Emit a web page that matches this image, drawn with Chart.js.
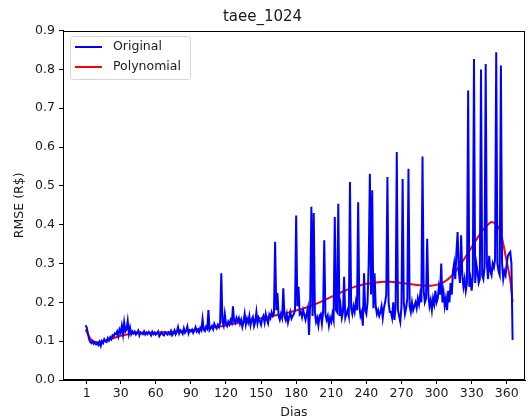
<!DOCTYPE html>
<html>
<head>
<meta charset="utf-8">
<script src="https://cdn.jsdelivr.net/npm/chart.js@4"></script>
<style>
  html, body { margin: 0; padding: 0; background: #fff; }
  #wrap { width: 529px; height: 420px; }
</style>
</head>
<body>
<div id="wrap"><canvas id="chart" width="529" height="420"></canvas></div>
<script>
// Chart data
const chartTitle = 'taee_1024';
const xTicks = [1, 30, 60, 90, 120, 150, 180, 210, 240, 270, 300, 330, 360];
const yTicks = [0, 0.1, 0.2, 0.3, 0.4, 0.5, 0.6, 0.7, 0.8, 0.9];

// daily RMSE, day 0 .. 365
const original = [
  0.141, 0.135, 0.12, 0.105, 0.098, 0.095, 0.1, 0.093, 0.097, 0.092, 0.095,
  0.09, 0.098, 0.088, 0.1, 0.095, 0.105, 0.1, 0.098, 0.108, 0.102,
  0.11, 0.105, 0.115, 0.112, 0.12, 0.118, 0.125, 0.113, 0.13, 0.122,
  0.14, 0.118, 0.148, 0.125, 0.13, 0.152, 0.12, 0.135, 0.118, 0.125,
  0.12, 0.125, 0.117, 0.122, 0.127, 0.115, 0.123, 0.12, 0.118, 0.125,
  0.117, 0.122, 0.118, 0.124, 0.12, 0.115, 0.124, 0.118, 0.122, 0.117,
  0.12, 0.125, 0.113, 0.118, 0.123, 0.117, 0.115, 0.123, 0.12, 0.117,
  0.122, 0.118, 0.126, 0.115, 0.12, 0.128, 0.118, 0.124, 0.136, 0.12,
  0.128, 0.124, 0.119, 0.133, 0.122, 0.127, 0.138, 0.12, 0.128, 0.125,
  0.13, 0.121, 0.127, 0.136, 0.125, 0.13, 0.123, 0.134, 0.128, 0.157,
  0.13, 0.126, 0.137, 0.132, 0.18, 0.129, 0.134, 0.139, 0.131, 0.145,
  0.138, 0.133, 0.142, 0.136, 0.148, 0.275, 0.15, 0.14, 0.17, 0.145,
  0.139, 0.15, 0.143, 0.155, 0.148, 0.19, 0.15, 0.146, 0.16, 0.152,
  0.16, 0.145, 0.155, 0.137, 0.15, 0.17, 0.143, 0.158, 0.148, 0.165,
  0.141, 0.155, 0.162, 0.139, 0.15, 0.175, 0.146, 0.16, 0.152, 0.142,
  0.158, 0.165, 0.148, 0.17, 0.155, 0.146, 0.168, 0.16, 0.175, 0.165,
  0.17, 0.356, 0.18, 0.224, 0.165, 0.155, 0.17, 0.16, 0.236, 0.165,
  0.155, 0.17, 0.148, 0.162, 0.175, 0.158, 0.165, 0.17, 0.18, 0.424,
  0.19, 0.24, 0.17, 0.175, 0.162, 0.18, 0.168, 0.155, 0.17, 0.185,
  0.116, 0.2, 0.446, 0.165, 0.43, 0.175, 0.15, 0.16, 0.14, 0.165,
  0.17, 0.145, 0.175, 0.36, 0.17, 0.155, 0.165, 0.14, 0.16, 0.15,
  0.17, 0.155, 0.42, 0.18, 0.175, 0.454, 0.165, 0.19, 0.16, 0.175,
  0.266, 0.16, 0.17, 0.18, 0.165, 0.51, 0.185, 0.17, 0.19, 0.175,
  0.2, 0.18, 0.458, 0.19, 0.165, 0.175, 0.14, 0.275, 0.18, 0.17,
  0.2, 0.3, 0.531, 0.22, 0.489, 0.185, 0.275, 0.19, 0.17, 0.18,
  0.165, 0.175, 0.19, 0.16, 0.185, 0.2, 0.22, 0.523, 0.2, 0.175,
  0.175, 0.16, 0.2, 0.155, 0.19, 0.587, 0.18, 0.165, 0.15, 0.19,
  0.518, 0.2, 0.17, 0.185, 0.21, 0.544, 0.19, 0.175, 0.2, 0.18,
  0.19, 0.2, 0.185, 0.21, 0.195, 0.22, 0.2, 0.576, 0.23, 0.2,
  0.21, 0.364, 0.22, 0.19, 0.205, 0.18, 0.21, 0.195, 0.23, 0.2,
  0.21, 0.24, 0.22, 0.3, 0.2, 0.225, 0.19, 0.21, 0.18, 0.23,
  0.2, 0.25, 0.22, 0.28, 0.3, 0.26, 0.33, 0.381, 0.28, 0.25,
  0.373, 0.27, 0.24, 0.26, 0.23, 0.25, 0.746, 0.24, 0.26, 0.23,
  0.27, 0.827, 0.25, 0.3, 0.28, 0.25, 0.26, 0.8, 0.27, 0.26,
  0.29, 0.814, 0.3, 0.26, 0.32, 0.28, 0.27, 0.3, 0.29, 0.31,
  0.844, 0.3, 0.28, 0.27, 0.81, 0.3, 0.26, 0.28, 0.27, 0.3,
  0.32, 0.326, 0.33, 0.3, 0.103
];

// polynomial fit, read at these days
const polyDays = [0, 5, 10, 15, 20, 25, 30, 35, 40, 45, 50, 55, 60, 65, 70, 75, 80, 85, 90, 95,
  100, 105, 110, 115, 120, 125, 130, 135, 140, 145, 150, 155, 160, 165, 170, 175, 180, 185, 190, 195,
  200, 205, 210, 215, 220, 225, 230, 235, 240, 245, 250, 255, 260, 265, 270, 275, 280, 285, 290, 295,
  300, 305, 310, 315, 320, 325, 330, 335, 340, 345, 347, 350, 353, 356, 359, 361, 363, 365];
const polyValues = [0.13, 0.103, 0.097, 0.1, 0.104, 0.109, 0.114, 0.117, 0.12, 0.121, 0.122, 0.122, 0.122, 0.123, 0.123, 0.124, 0.125, 0.126, 0.128, 0.13,
  0.132, 0.134, 0.136, 0.138, 0.141, 0.144, 0.147, 0.15, 0.153, 0.156, 0.159, 0.162, 0.165, 0.168, 0.171, 0.175, 0.179, 0.183, 0.188, 0.194,
  0.2, 0.207, 0.214, 0.221, 0.228, 0.234, 0.24, 0.244, 0.248, 0.25, 0.252, 0.253, 0.253, 0.252, 0.25, 0.248, 0.246, 0.244, 0.243, 0.243,
  0.245, 0.25, 0.26, 0.275, 0.295, 0.318, 0.342, 0.366, 0.388, 0.403, 0.407, 0.403, 0.393, 0.365, 0.32, 0.29, 0.257, 0.2];

const FONT = 'DejaVu Sans';
const TEXT = '#1a1a1a';

// frame on all four sides + legend box in upper-left corner
const frameLegend = {
  id: 'frameLegend',
  afterDatasetsDraw(chart) {
    const ctx = chart.ctx;
    const a = chart.chartArea;
    ctx.save();
    ctx.strokeStyle = '#000';
    ctx.lineWidth = 1;
    ctx.strokeRect(Math.round(a.left) + 0.5, Math.round(a.top) + 0.5,
      Math.round(a.right - a.left) - 1, Math.round(a.bottom - a.top) - 1);

    // legend
    const bx = 70.5, by = 36.5, bw = 120, bh = 43, r = 3;
    ctx.beginPath();
    ctx.moveTo(bx + r, by);
    ctx.arcTo(bx + bw, by, bx + bw, by + bh, r);
    ctx.arcTo(bx + bw, by + bh, bx, by + bh, r);
    ctx.arcTo(bx, by + bh, bx, by, r);
    ctx.arcTo(bx, by, bx + bw, by, r);
    ctx.closePath();
    ctx.fillStyle = 'rgba(255,255,255,0.8)';
    ctx.fill();
    ctx.strokeStyle = '#d6d6d6';
    ctx.stroke();

    const items = [['Original', '#0000ff', 47], ['Polynomial', '#ff0000', 67]];
    ctx.font = '12.5px "' + FONT + '"';
    ctx.textBaseline = 'middle';
    items.forEach(([label, color, y]) => {
      ctx.strokeStyle = color;
      ctx.lineWidth = 2;
      ctx.beginPath();
      ctx.moveTo(75, y);
      ctx.lineTo(102, y);
      ctx.stroke();
      ctx.fillStyle = TEXT;
      ctx.fillText(label, 113, y);
    });
    ctx.restore();
  }
};

const ctx = document.getElementById('chart').getContext('2d');
new Chart(ctx, {
  type: 'line',
  data: {
    datasets: [
      {
        label: 'Original',
        data: original.map((v, i) => ({ x: i, y: v })),
        borderColor: '#0000ff',
        borderWidth: 2,
        pointRadius: 0,
        tension: 0
      },
      {
        label: 'Polynomial',
        data: polyDays.map((d, i) => ({ x: d, y: polyValues[i] })),
        borderColor: '#ff0000',
        borderWidth: 2,
        pointRadius: 0,
        cubicInterpolationMode: 'monotone'
      }
    ]
  },
  options: {
    responsive: false,
    animation: false,
    layout: { padding: { left: 0, right: 4, top: 0, bottom: 0 } },
    plugins: {
      legend: { display: false },
      tooltip: { enabled: false },
      title: {
        display: true,
        text: chartTitle,
        color: TEXT,
        font: { family: FONT, size: 15, weight: 'normal' },
        padding: { top: 8, bottom: 4.6 }
      }
    },
    scales: {
      x: {
        type: 'linear',
        min: -19.3,
        max: 375.6,
        afterBuildTicks: (s) => { s.ticks = xTicks.map(v => ({ value: v })); },
        afterFit: (s) => { s.height = 40; },
        ticks: {
          color: TEXT,
          font: { family: FONT, size: 12.5 },
          padding: 2,
          maxRotation: 0,
          autoSkip: false,
          callback: (v) => String(v)
        },
        grid: { display: true, drawOnChartArea: false, drawTicks: true, tickLength: 4, color: '#000' },
        border: { display: true, color: '#000', width: 1 },
        title: {
          display: true,
          text: 'Dias',
          color: TEXT,
          font: { family: FONT, size: 12.5 },
          padding: { top: 0, bottom: 0 }
        }
      },
      y: {
        min: 0,
        max: 0.9,
        afterBuildTicks: (s) => { s.ticks = yTicks.map(v => ({ value: v })); },
        afterFit: (s) => { s.width = 63; },
        ticks: {
          color: TEXT,
          font: { family: FONT, size: 12.5 },
          padding: 4,
          callback: (v) => v.toFixed(1)
        },
        grid: { display: true, drawOnChartArea: false, drawTicks: true, tickLength: 4, color: '#000' },
        border: { display: true, color: '#000', width: 1 },
        title: {
          display: true,
          text: 'RMSE (R$)',
          color: TEXT,
          font: { family: FONT, size: 12.5 },
          padding: { top: 12, bottom: 0 }
        }
      }
    }
  },
  plugins: [frameLegend]
});
</script>
</body>
</html>
